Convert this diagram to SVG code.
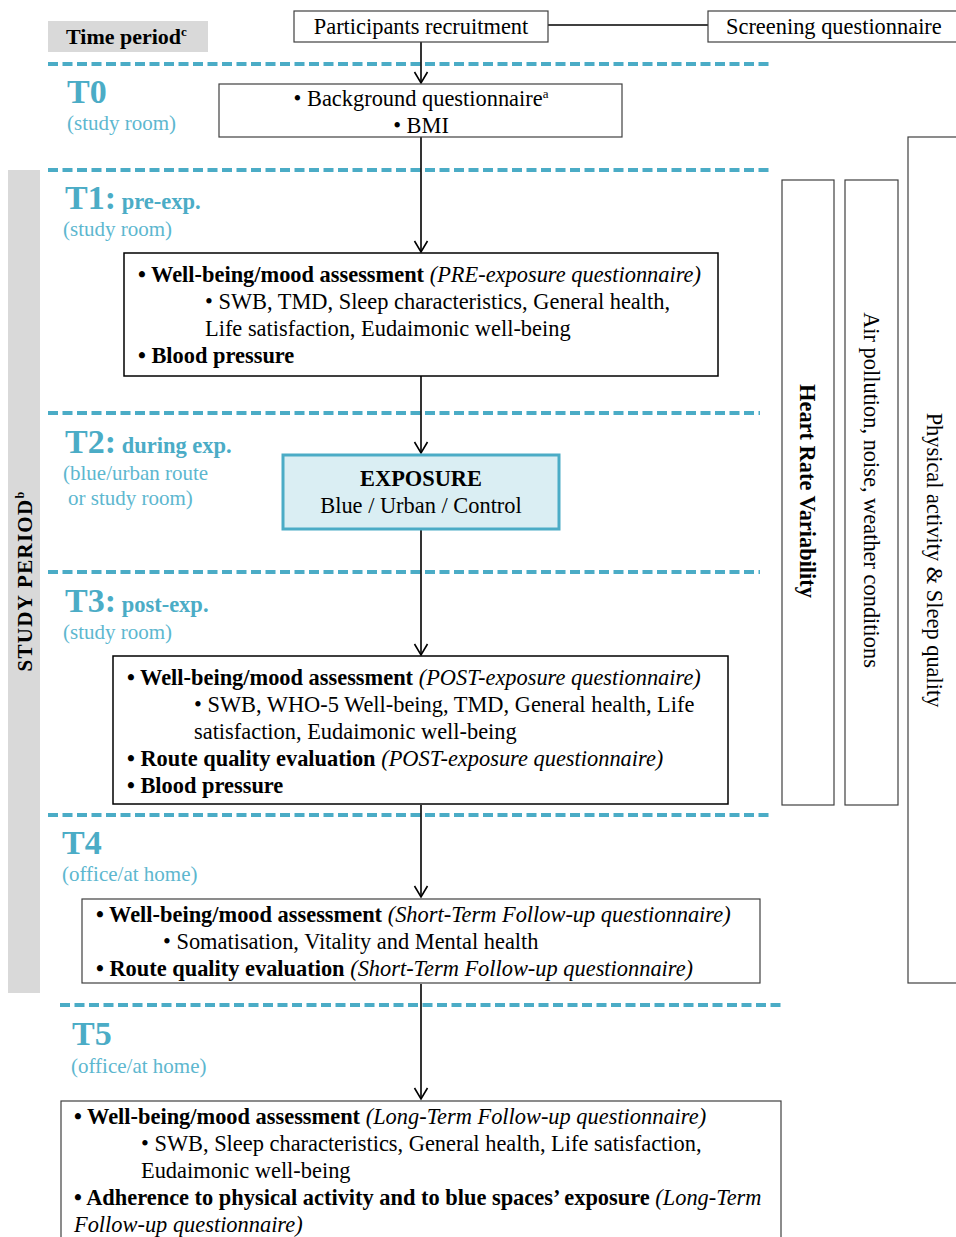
<svg xmlns="http://www.w3.org/2000/svg" width="956" height="1237" viewBox="0 0 956 1237">
  <defs>
    <style>
      text { font-family: "Liberation Serif", "Times New Roman", serif; fill: #000; }
      .t { font-size: 22.4px; }
      .b { font-weight: bold; }
      .i { font-style: italic; }
      .box { fill: #fff; stroke: #000; stroke-width: 1.5; }
      .thin { fill: #fff; stroke: #404040; stroke-width: 1.2; }
      .lbl { fill: #4BACC6; font-weight: bold; font-size: 34px; }
      .sub { fill: #4BACC6; font-weight: bold; font-size: 22.5px; }
      .loc { fill: #5DB7CF; font-size: 21px; }
      .dash { stroke: #4BACC6; stroke-width: 4; stroke-dasharray: 10 4.5; fill: none; }
      .shadow { stroke: #9A9A9A; stroke-width: 4; stroke-dasharray: 10 4.5; fill: none; opacity: 0.6; filter: url(#soft); }
      .conn { stroke: #000; stroke-width: 1.6; fill: none; }
    </style>
    <filter id="soft" x="-5%" y="-200%" width="110%" height="500%">
      <feGaussianBlur stdDeviation="1.5"/>
    </filter>
    <!-- open chevron head, drawn along +x so orient="auto" points it down the line -->
    <marker id="vhead" markerUnits="userSpaceOnUse" markerWidth="14" markerHeight="16" refX="12" refY="8" orient="auto" viewBox="0 0 14 16">
      <path d="M1,1.5 L12,8 L1,14.5" fill="none" stroke="#000" stroke-width="1.6"/>
    </marker>
  </defs>

  <!-- period separators -->
  <g id="separators">
    <line class="shadow" x1="48" y1="67" x2="770" y2="67"/>
    <line class="dash" x1="48" y1="64" x2="770" y2="64"/>
    <line class="shadow" x1="48" y1="173" x2="770" y2="173"/>
    <line class="dash" x1="48" y1="170" x2="770" y2="170"/>
    <line class="shadow" x1="48" y1="416" x2="760" y2="416"/>
    <line class="dash" x1="48" y1="413" x2="760" y2="413"/>
    <line class="shadow" x1="48" y1="575" x2="760" y2="575"/>
    <line class="dash" x1="48" y1="572" x2="760" y2="572"/>
    <line class="shadow" x1="48" y1="818" x2="770" y2="818"/>
    <line class="dash" x1="48" y1="815" x2="770" y2="815"/>
    <line class="shadow" x1="60" y1="1008" x2="782" y2="1008"/>
    <line class="dash" x1="60" y1="1005" x2="782" y2="1005"/>
  </g>

  <!-- left column: time period labels -->
  <g id="time-period">
    <rect x="48" y="21" width="160" height="31" fill="#D9D9D9"/>
    <text class="b" font-size="22" x="66" y="44">Time period<tspan font-size="13" dy="-8">c</tspan></text>
  </g>
  <g id="study-period">
    <rect x="8" y="170" width="32" height="823" fill="#D9D9D9"/>
    <text class="b" font-size="21" letter-spacing="1.3" transform="translate(32,581) rotate(-90)" text-anchor="middle">STUDY PERIOD<tspan font-size="12" dy="-8">b</tspan></text>
  </g>
  <g id="label-t0">
    <text class="lbl" x="67" y="103">T0</text>
    <text class="loc" x="67" y="130">(study room)</text>
  </g>
  <g id="label-t1">
    <text x="65" y="209"><tspan class="lbl">T1:</tspan><tspan class="sub"> pre-exp.</tspan></text>
    <text class="loc" x="63" y="236">(study room)</text>
  </g>
  <g id="label-t2">
    <text x="65" y="453"><tspan class="lbl">T2:</tspan><tspan class="sub"> during exp.</tspan></text>
    <text class="loc" x="63" y="480">(blue/urban route</text>
    <text class="loc" x="68" y="505">or study room)</text>
  </g>
  <g id="label-t3">
    <text x="65" y="612"><tspan class="lbl">T3:</tspan><tspan class="sub"> post-exp.</tspan></text>
    <text class="loc" x="63" y="639">(study room)</text>
  </g>
  <g id="label-t4">
    <text class="lbl" x="62" y="854">T4</text>
    <text class="loc" x="62" y="881">(office/at home)</text>
  </g>
  <g id="label-t5">
    <text class="lbl" x="72" y="1045">T5</text>
    <text class="loc" x="71" y="1073">(office/at home)</text>
  </g>

  <!-- connectors -->
  <g id="connectors">
    <line class="conn" x1="548" y1="25" x2="708" y2="25"/>
    <line class="conn" x1="421" y1="42" x2="421" y2="83" marker-end="url(#vhead)"/>
    <line class="conn" x1="421" y1="137" x2="421" y2="252" marker-end="url(#vhead)"/>
    <line class="conn" x1="421" y1="376" x2="421" y2="453" marker-end="url(#vhead)"/>
    <line class="conn" x1="421" y1="530" x2="421" y2="655" marker-end="url(#vhead)"/>
    <line class="conn" x1="421" y1="805" x2="421" y2="897" marker-end="url(#vhead)"/>
    <line class="conn" x1="421" y1="984" x2="421" y2="1099" marker-end="url(#vhead)"/>
  </g>

  <!-- flow nodes -->
  <g id="recruitment">
    <rect class="thin" x="294" y="11" width="254" height="31"/>
    <text class="t" x="421" y="34" text-anchor="middle">Participants recruitment</text>
  </g>
  <g id="screening">
    <rect class="thin" x="708" y="11" width="260" height="31"/>
    <text class="t" x="726" y="34">Screening questionnaire</text>
  </g>
  <g id="t0-box">
    <rect class="thin" x="219" y="84" width="403" height="53"/>
    <text class="t" x="421" y="106" text-anchor="middle">• Background questionnaire<tspan font-size="13" dy="-8">a</tspan></text>
    <text class="t" x="421" y="133" text-anchor="middle">• BMI</text>
  </g>
  <g id="t1-box">
    <rect class="box" x="124" y="253" width="594" height="123"/>
    <text class="t" x="138" y="282"><tspan class="b">• Well-being/mood assessment</tspan> <tspan class="i">(PRE-exposure questionnaire)</tspan></text>
    <text class="t" x="205" y="309">• SWB, TMD, Sleep characteristics, General health,</text>
    <text class="t" x="205" y="336">Life satisfaction, Eudaimonic well-being</text>
    <text class="t b" x="138" y="363">• Blood pressure</text>
  </g>
  <g id="exposure">
    <rect x="283" y="455" width="276" height="74" fill="#DAEEF3" stroke="#4BACC6" stroke-width="3"/>
    <text class="t b" x="421" y="486" text-anchor="middle">EXPOSURE</text>
    <text class="t" x="421" y="513" text-anchor="middle">Blue / Urban / Control</text>
  </g>
  <g id="t3-box">
    <rect class="box" x="113" y="656" width="615" height="148"/>
    <text class="t" x="127" y="685"><tspan class="b">• Well-being/mood assessment</tspan> <tspan class="i">(POST-exposure questionnaire)</tspan></text>
    <text class="t" x="194" y="712">• SWB, WHO-5 Well-being, TMD, General health, Life</text>
    <text class="t" x="194" y="739">satisfaction, Eudaimonic well-being</text>
    <text class="t" x="127" y="766"><tspan class="b">• Route quality evaluation</tspan> <tspan class="i">(POST-exposure questionnaire)</tspan></text>
    <text class="t b" x="127" y="793">• Blood pressure</text>
  </g>
  <g id="t4-box">
    <rect class="thin" x="82" y="899" width="678" height="84"/>
    <text class="t" x="96" y="922"><tspan class="b">• Well-being/mood assessment</tspan> <tspan class="i">(Short-Term Follow-up questionnaire)</tspan></text>
    <text class="t" x="163" y="949">• Somatisation, Vitality and Mental health</text>
    <text class="t" x="96" y="976"><tspan class="b">• Route quality evaluation</tspan> <tspan class="i">(Short-Term Follow-up questionnaire)</tspan></text>
  </g>
  <g id="t5-box">
    <rect class="thin" x="61" y="1101" width="720" height="150"/>
    <text class="t" x="74" y="1124"><tspan class="b">• Well-being/mood assessment</tspan> <tspan class="i">(Long-Term Follow-up questionnaire)</tspan></text>
    <text class="t" x="141" y="1151">• SWB, Sleep characteristics, General health, Life satisfaction,</text>
    <text class="t" x="141" y="1178">Eudaimonic well-being</text>
    <text class="t" x="74" y="1205"><tspan class="b">• Adherence to physical activity and to blue spaces’ exposure</tspan> <tspan class="i">(Long-Term</tspan></text>
    <text class="t i" x="74" y="1232">Follow-up questionnaire)</text>
  </g>

  <!-- continuous measurements -->
  <g id="hrv">
    <rect class="thin" x="782" y="180" width="52" height="625"/>
    <text class="t b" transform="translate(800,491) rotate(90)" text-anchor="middle">Heart Rate Variability</text>
  </g>
  <g id="environment">
    <rect class="thin" x="845" y="180" width="53" height="625"/>
    <text class="t" transform="translate(864,490) rotate(90)" text-anchor="middle">Air pollution, noise, weather conditions</text>
  </g>
  <g id="activity-sleep">
    <rect class="thin" x="908" y="137" width="60" height="846"/>
    <text class="t" transform="translate(927,560) rotate(90)" text-anchor="middle">Physical activity &amp; Sleep quality</text>
  </g>
</svg>
